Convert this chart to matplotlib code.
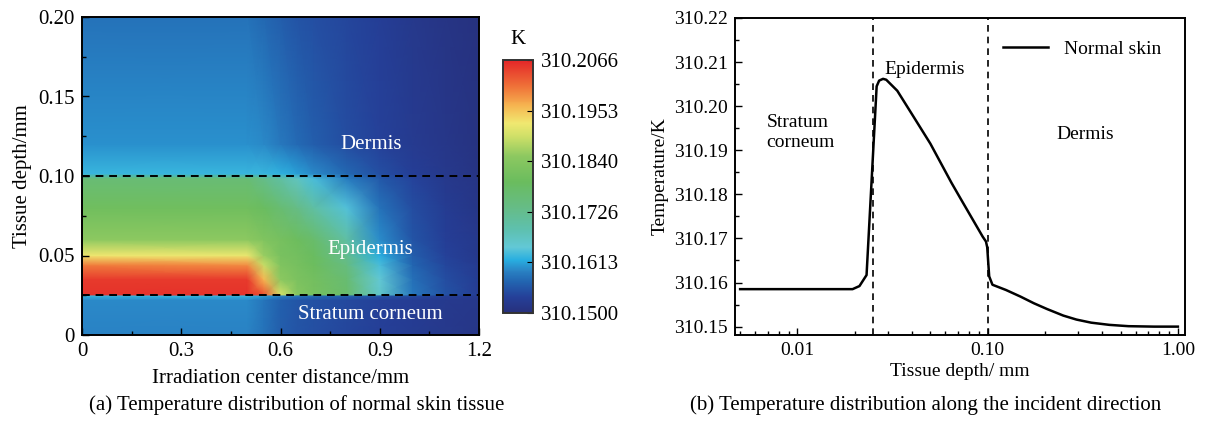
import matplotlib.pyplot as plt
import numpy as np
from matplotlib.colors import LinearSegmentedColormap
from matplotlib.ticker import MultipleLocator, FormatStrFormatter, LogLocator, NullFormatter, FixedLocator

plt.rcParams['font.family'] = ['Liberation Serif', 'DejaVu Serif']

# ---- (a) temperature field (K) ----
dist = [0, 0.5, 0.55, 0.6, 0.65, 0.7, 0.8, 0.9, 1.0, 1.1, 1.2]
depth_a = [0, 0.022, 0.0245, 0.0255, 0.035, 0.044, 0.05, 0.06, 0.08, 0.0985, 0.1015, 0.12, 0.2]
temp_a = [
    [310.1595, 310.1595, 310.1580, 310.1562, 310.1555, 310.1550, 310.1542, 310.1535, 310.1528, 310.1522, 310.1515],
    [310.1598, 310.1598, 310.1583, 310.1565, 310.1557, 310.1552, 310.1545, 310.1537, 310.1530, 310.1524, 310.1518],
    [310.1625, 310.1625, 310.1610, 310.1592, 310.1582, 310.1575, 310.1565, 310.1555, 310.1545, 310.1535, 310.1525],
    [310.2055, 310.2055, 310.2030, 310.1900, 310.1840, 310.1815, 310.1775, 310.1660, 310.1585, 310.1552, 310.1530],
    [310.2050, 310.2050, 310.1960, 310.1850, 310.1825, 310.1810, 310.1765, 310.1650, 310.1578, 310.1548, 310.1528],
    [310.2000, 310.1990, 310.1890, 310.1830, 310.1815, 310.1800, 310.1745, 310.1635, 310.1570, 310.1542, 310.1525],
    [310.1925, 310.1920, 310.1860, 310.1820, 310.1810, 310.1790, 310.1725, 310.1620, 310.1563, 310.1537, 310.1522],
    [310.1850, 310.1850, 310.1830, 310.1815, 310.1800, 310.1775, 310.1700, 310.1600, 310.1555, 310.1532, 310.1520],
    [310.1805, 310.1805, 310.1790, 310.1765, 310.1735, 310.1700, 310.1640, 310.1580, 310.1548, 310.1528, 310.1515],
    [310.1760, 310.1760, 310.1730, 310.1700, 310.1670, 310.1635, 310.1590, 310.1558, 310.1538, 310.1522, 310.1512],
    [310.1628, 310.1628, 310.1628, 310.1622, 310.1612, 310.1598, 310.1572, 310.1550, 310.1532, 310.1520, 310.1510],
    [310.1602, 310.1602, 310.1598, 310.1585, 310.1573, 310.1562, 310.1548, 310.1537, 310.1526, 310.1517, 310.1508],
    [310.1580, 310.1580, 310.1572, 310.1562, 310.1555, 310.1550, 310.1542, 310.1532, 310.1522, 310.1513, 310.1505],
]
cbar_ticks = [310.1500, 310.1613, 310.1726, 310.1840, 310.1953, 310.2066]

# ---- (b) temperature along the incident direction ----
depth_b = [0.005, 0.0195, 0.0212, 0.0231, 0.0261, 0.0269, 0.0282, 0.0293, 0.0335, 0.040, 0.050, 0.0646,
           0.0726, 0.0942, 0.098, 0.0995, 0.1019, 0.106, 0.125, 0.149, 0.175, 0.205, 0.25, 0.293, 0.35,
           0.436, 0.55, 0.75, 1.0]
temp_b = [310.1585, 310.1585, 310.1592, 310.1617, 310.2045, 310.2058, 310.2062, 310.2060, 310.2035,
          310.1982, 310.1915, 310.1826, 310.1788, 310.1704, 310.1693, 310.1680, 310.1614, 310.1595,
          310.1583, 310.1568, 310.1553, 310.1540, 310.1525, 310.1516, 310.1509, 310.1504, 310.1501,
          310.1500, 310.1500]

cmap = LinearSegmentedColormap.from_list('skin', [
    (0.00, '#27307c'), (0.06, '#253f98'), (0.12, '#2264b0'), (0.17, '#2a86c6'),
    (0.21, '#28aee0'), (0.26, '#62c8d6'), (0.33, '#5ec0ae'), (0.42, '#66bc84'),
    (0.52, '#6abc5e'), (0.62, '#8cc860'), (0.70, '#d0e068'), (0.75, '#f0e870'),
    (0.82, '#f6b450'), (0.90, '#ef7038'), (1.00, '#e42628')])

W, H = 1212, 421
fig = plt.figure(figsize=(W / 100, H / 100), dpi=100)

# ---------- panel (a) ----------
ax1 = fig.add_axes([82 / W, 1 - 335 / H, 397 / W, 318 / H])
mesh = ax1.pcolormesh(dist, depth_a, np.array(temp_a), shading='gouraud', cmap=cmap,
                      vmin=cbar_ticks[0], vmax=cbar_ticks[-1])
for yb in [0.1, 0.025]:
    ax1.axhline(yb, color='black', lw=1.4, ls=(0, (4, 3)))
ax1.set_xlim(0, 1.2)
ax1.set_ylim(0, 0.2)
ax1.xaxis.set_major_locator(MultipleLocator(0.3))
ax1.xaxis.set_minor_locator(MultipleLocator(0.15))
ax1.yaxis.set_major_locator(MultipleLocator(0.05))
ax1.yaxis.set_minor_locator(MultipleLocator(0.025))
ax1.xaxis.set_major_formatter(lambda v, p: '0' if v == 0 else f'{v:.1f}')
ax1.yaxis.set_major_formatter(lambda v, p: '0' if v == 0 else f'{v:.2f}')
ax1.tick_params(which='both', direction='in', labelsize=15, pad=5, width=1)
ax1.tick_params(which='major', length=5)
ax1.tick_params(which='minor', length=3)
for s in ax1.spines.values():
    s.set_linewidth(1.4)
ax1.set_xlabel('Irradiation center distance/mm', fontsize=15, labelpad=6)
ax1.set_ylabel('Tissue depth/mm', fontsize=15, labelpad=5)
ax1.text(0.874, 0.1195, 'Dermis', color='white', fontsize=15, ha='center', va='center')
ax1.text(0.871, 0.0535, 'Epidermis', color='white', fontsize=15, ha='center', va='center')
ax1.text(0.871, 0.0126, 'Stratum corneum', color='white', fontsize=15, ha='center', va='center')

cax = fig.add_axes([503 / W, 1 - 313 / H, 30 / W, 253 / H])
cb = fig.colorbar(mesh, cax=cax, ticks=cbar_ticks)
cb.ax.yaxis.set_major_formatter(FormatStrFormatter('%.4f'))
cb.ax.tick_params(direction='in', length=4, labelsize=15, pad=6)
cb.outline.set_linewidth(1.4)
cb.outline.set_edgecolor('#333333')
fig.text(518 / W, 1 - 40 / H, 'K', fontsize=15, ha='center', va='center')

# ---------- panel (b) ----------
ax2 = fig.add_axes([735 / W, 1 - 335 / H, 450 / W, 317 / H])
ax2.plot(depth_b, temp_b, color='black', lw=1.8, label='Normal skin')
for xb in [0.025, 0.1]:
    ax2.axvline(xb, color='black', lw=1.2, ls=(0, (4, 3)))
ax2.set_xscale('log')
ax2.set_xlim(0.0047, 1.09)
ax2.set_ylim(310.1481, 310.22)
ax2.xaxis.set_major_locator(FixedLocator([0.01, 0.1, 1.0]))
ax2.xaxis.set_major_formatter(FormatStrFormatter('%.2f'))
ax2.xaxis.set_minor_locator(LogLocator(base=10, subs=np.arange(2, 10)))
ax2.xaxis.set_minor_formatter(NullFormatter())
ax2.yaxis.set_major_locator(MultipleLocator(0.01))
ax2.yaxis.set_minor_locator(MultipleLocator(0.005))
ax2.yaxis.set_major_formatter(FormatStrFormatter('%.2f'))
ax2.tick_params(which='both', direction='in', labelsize=14, pad=5, width=1)
ax2.tick_params(which='major', length=5)
ax2.tick_params(which='minor', length=3)
for s in ax2.spines.values():
    s.set_linewidth(1.4)
ax2.set_xlabel('Tissue depth/ mm', fontsize=14, labelpad=3)
ax2.set_ylabel('Temperature/K', fontsize=14, labelpad=4)
ax2.text(0.0069, 310.194, 'Stratum\ncorneum', fontsize=14, ha='left', va='center', linespacing=1.25)
ax2.text(0.0285, 310.2083, 'Epidermis', fontsize=14, ha='left', va='center')
ax2.text(0.229, 310.1935, 'Dermis', fontsize=14, ha='left', va='center')
ax2.legend(loc='upper right', bbox_to_anchor=(0.985, 0.985), frameon=False, fontsize=14,
           handlelength=2.3, handletextpad=0.8)

fig.text(297 / W, 1 - 405 / H, '(a) Temperature distribution of normal skin tissue',
         fontsize=15, ha='center', va='center')
fig.text(926 / W, 1 - 405 / H, '(b) Temperature distribution along the incident direction',
         fontsize=15, ha='center', va='center')

fig.savefig('out.png', dpi=100)
